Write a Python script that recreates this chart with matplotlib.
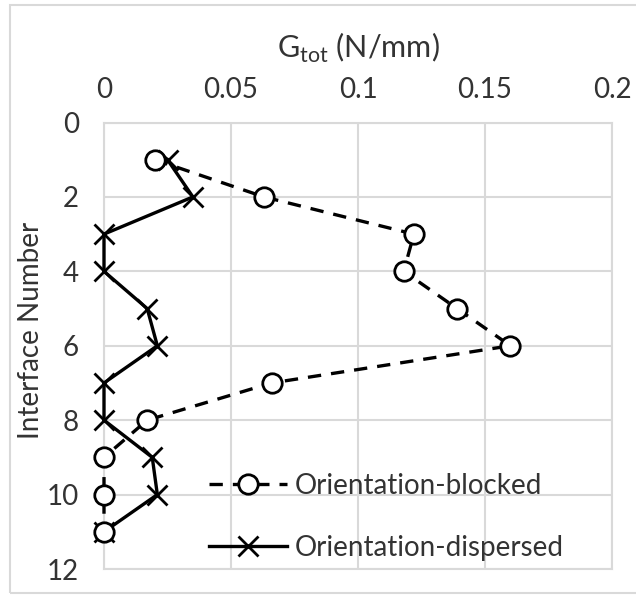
import numpy as np
import matplotlib
matplotlib.use("Agg")
import matplotlib.pyplot as plt
from matplotlib.patches import Rectangle

plt.rcParams['font.family'] = ['Lato', 'DejaVu Sans']

interface = [1, 2, 3, 4, 5, 6, 7, 8, 9, 10, 11]
g_blocked = [0.020, 0.063, 0.122, 0.118, 0.139, 0.160, 0.066, 0.017, 0.0, 0.0, 0.0]
g_dispersed = [0.025, 0.035, 0.0, 0.0, 0.017, 0.021, 0.0, 0.0, 0.019, 0.021, 0.0]

xticks = [0, 0.05, 0.1, 0.15, 0.2]
xticklabels = ['0', '0.05', '0.1', '0.15', '0.2']
yticks = [0, 2, 4, 6, 8, 10, 12]

fig = plt.figure(figsize=(6.36, 5.98), dpi=100)
ax = fig.add_axes([104/636, 1 - 569/598, (612-104)/636, (569-122.5)/598])

# outer chart border (right side falls outside the picture)
fig.patches.append(Rectangle((10/636, 5/598), 640/636, 588/598, transform=fig.transFigure,
                             fill=False, edgecolor='#d9d9d9', linewidth=1.5))

ax.plot(g_blocked, interface, color='black', linestyle=(0, (4, 3)), linewidth=2.4,
        marker='o', markersize=14, markerfacecolor='white', markeredgecolor='black',
        markeredgewidth=2, label='Orientation-blocked', clip_on=False, zorder=4)
ax.plot(g_dispersed, interface, color='black', linestyle='-', linewidth=2.4,
        marker='x', markersize=14, markeredgewidth=2, label='Orientation-dispersed',
        clip_on=False, zorder=3)

ax.set_xlim(0, 0.2)
ax.set_ylim(12, 0)
ax.set_xticks(xticks)
ax.set_xticklabels(xticklabels)
ax.set_yticks(yticks)
ax.xaxis.tick_top()
ax.xaxis.set_label_position('top')
ax.tick_params(length=0, labelsize=20, colors='#333333', pad=14)
ax.tick_params(axis='y', pad=18)
ax.set_xlabel(r'G$_{\mathregular{tot}}$ (N/mm)', fontsize=22, color='#333333', labelpad=14)
ax.set_ylabel('Interface Number', fontsize=20, color='#333333')
ax.yaxis.set_label_coords(-0.118, 0.535)

ax.grid(True, color='#d9d9d9', linewidth=1.5)
ax.set_axisbelow(True)
for s in ax.spines.values():
    s.set_color('#d9d9d9')
    s.set_linewidth(1.5)

leg = ax.legend(loc='lower right', bbox_to_anchor=(0.955, -0.038), frameon=False,
                fontsize=20, handlelength=2.8, handletextpad=0.3, labelspacing=1.3,
                labelcolor='#333333')

fig.savefig('out.png', dpi=100)
